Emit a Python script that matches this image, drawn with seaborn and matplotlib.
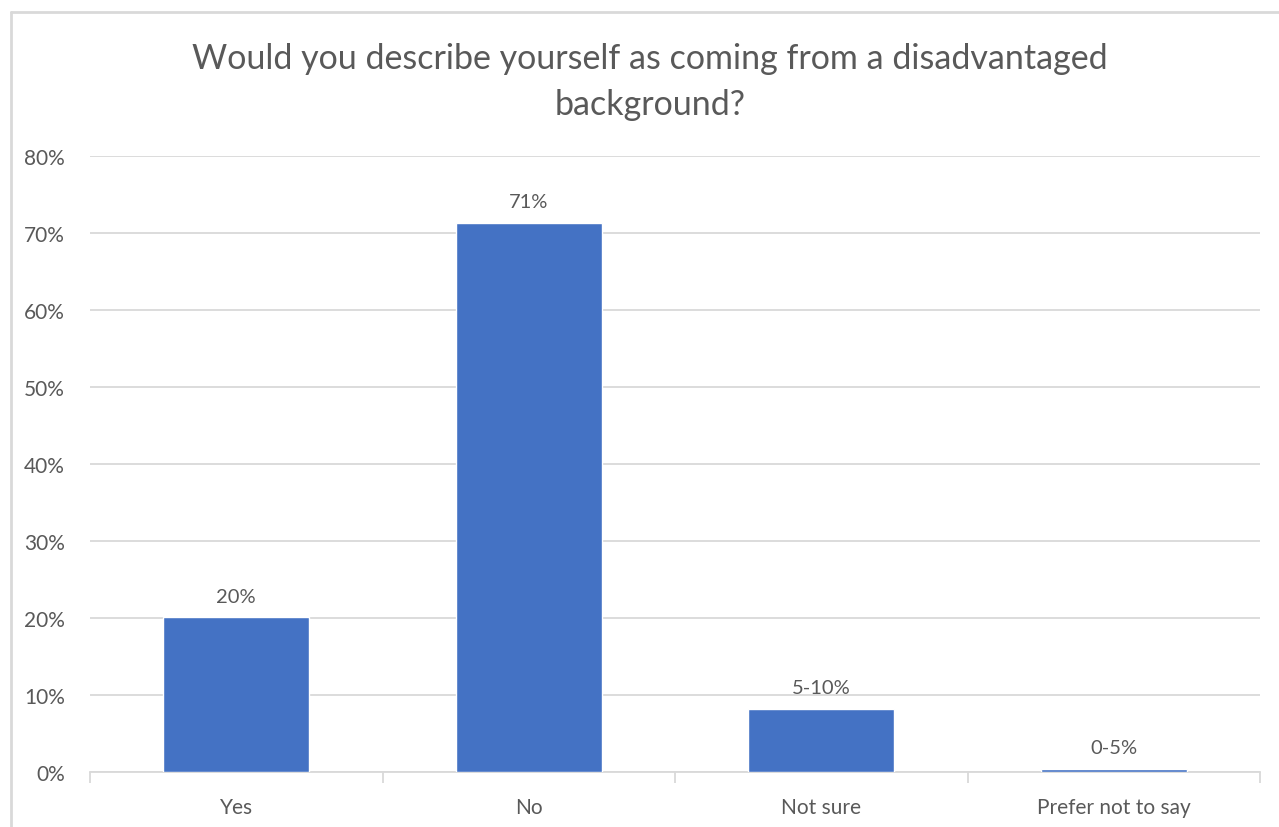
import matplotlib
matplotlib.use('Agg')
import matplotlib.pyplot as plt
from matplotlib.lines import Line2D
import seaborn as sns
import pandas as pd
from matplotlib.ticker import PercentFormatter

# survey answers and shares (percent)
categories = ['Yes', 'No', 'Not sure', 'Prefer not to say']
values = [20.1, 71.3, 8.2, 0.4]
bar_labels = ['20%', '71%', '5-10%', '0-5%']
y_ticks = [0, 10, 20, 30, 40, 50, 60, 70, 80]

df = pd.DataFrame({'answer': categories, 'share': values})

sns.set_style('white')
plt.rcParams['font.family'] = ['Lato', 'DejaVu Sans']

text_col = '#595959'
grid_col = '#D9D9D9'

fig = plt.figure(figsize=(12.79, 8.28), dpi=100)
ax = fig.add_axes([90 / 1279, 1 - 773 / 828, (1260 - 90) / 1279, (773 - 157) / 828])

sns.barplot(data=df, x='answer', y='share', color='#4472C4', width=0.5,
            saturation=1, ax=ax, zorder=3)

ax.set_ylim(0, 80)
ax.set_xlim(-0.5, len(categories) - 0.5)
ax.set_yticks(y_ticks)
ax.yaxis.set_major_formatter(PercentFormatter(decimals=0))
ax.grid(axis='y', color=grid_col, linewidth=1.3, zorder=0)
ax.set_axisbelow(True)

for side in ['top', 'right', 'left']:
    ax.spines[side].set_visible(False)
ax.spines['bottom'].set_color(grid_col)
ax.spines['bottom'].set_linewidth(1.3)

ax.set_xlabel('')
ax.set_ylabel('')
ax.tick_params(axis='y', length=0, pad=18, labelsize=15, labelcolor=text_col)
ax.tick_params(axis='x', length=0, pad=18, labelsize=15, labelcolor=text_col)

# category boundary ticks on the x axis
ax.set_xticks([i - 0.5 for i in range(len(categories) + 1)], minor=True)
ax.tick_params(axis='x', which='minor', bottom=True, length=8, color=grid_col, width=1.3)

ax.bar_label(ax.containers[0], labels=bar_labels, padding=9, fontsize=14.5, color=text_col)

fig.text(0.508, 0.901, 'Would you describe yourself as coming from a disadvantaged\nbackground?',
         ha='center', va='center', fontsize=24.5, color=text_col, linespacing=1.56)

# outer chart border (top and left edges visible)
bx, by = 10.5 / 1279, 1 - 12.5 / 828
fig.add_artist(Line2D([bx, 1.0], [by, by], transform=fig.transFigure, color=grid_col, linewidth=2))
fig.add_artist(Line2D([bx, bx], [0.0, by], transform=fig.transFigure, color=grid_col, linewidth=2))

fig.savefig('out.png', dpi=100)
